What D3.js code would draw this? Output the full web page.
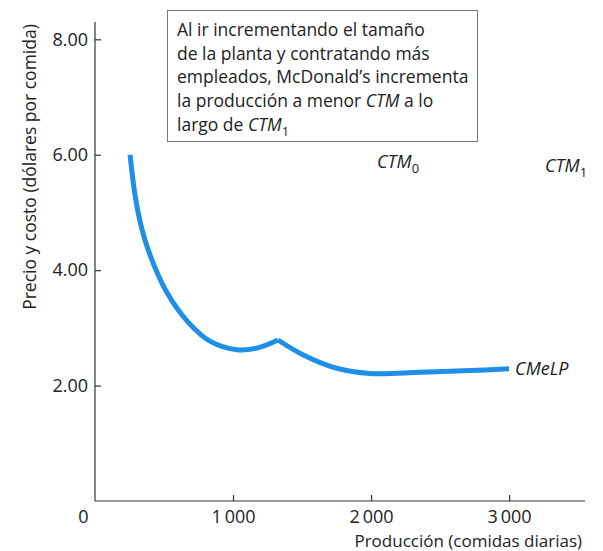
<!DOCTYPE html>
<html>
<head>
<meta charset="utf-8">
<script src="https://cdn.jsdelivr.net/npm/d3@7"></script>
<style>
  html, body { margin: 0; padding: 0; background: #fff; }
  svg { display: block; font-family: "Open Sans", "DejaVu Sans", sans-serif; }
  .axis path, .axis line { stroke: #333; stroke-width: 1.2; }
  .axis text { fill: #222; font-size: 18px; font-family: "Open Sans", sans-serif; }
</style>
</head>
<body>
<svg id="chart" width="603" height="551"></svg>
<script>
// Long-run average cost curve (CMeLP): meals per day vs dollars per meal
const segmentCTM0 = [
  [254, 6.00], [290, 5.30], [338, 4.73], [399, 4.26], [519, 3.62],
  [674, 3.10], [833, 2.77], [1029, 2.62], [1174, 2.65], [1326, 2.79]
];
const segmentCTM1 = [
  [1326, 2.79], [1509, 2.53], [1751, 2.30], [1992, 2.21], [2355, 2.23],
  [2717, 2.26], [3000, 2.29]
];
const xTicks = [0, 1000, 2000, 3000];
const yTicks = [2, 4, 6, 8];
const noteLines = [
  [{t: "Al ir incrementando el tamaño"}],
  [{t: "de la planta y contratando más"}],
  [{t: "empleados, McDonald’s incrementa"}],
  [{t: "la producción a menor "}, {t: "CTM", it: true}, {t: " a lo"}],
  [{t: "largo de "}, {t: "CTM", it: true}, {t: "1", sub: true}]
];

const svg = d3.select("#chart");
const x = d3.scaleLinear().domain([0, 3550]).range([95, 585]);
const y = d3.scaleLinear().domain([0, 8.3]).range([501, 22]);

// axes
const fmtX = d => d === 0 ? "0" : d3.format(",")(d).replace(",", "\u2009");
const gx = svg.append("g").attr("class", "axis")
  .attr("transform", `translate(0,${y(0)})`)
  .call(d3.axisBottom(x).tickValues(xTicks).tickSizeInner(-6).tickSizeOuter(0)
    .tickPadding(9).tickFormat(fmtX));
gx.select(".domain").attr("d", `M${x(0)},0H${x(3550)}`);
gx.selectAll(".tick").filter(d => d === 0).select("line").remove();
gx.selectAll(".tick").filter(d => d === 0).select("text").attr("x", -12);

const gy = svg.append("g").attr("class", "axis")
  .attr("transform", `translate(${x(0)},0)`)
  .call(d3.axisLeft(y).tickValues(yTicks).tickSizeInner(-6).tickSizeOuter(0)
    .tickPadding(7).tickFormat(d3.format(".2f")));
gy.select(".domain").attr("d", `M0,${y(8.3)}V${y(0)}`);
gy.selectAll(".tick text").attr("font-size", 19);

// axis titles
svg.append("text")
  .attr("transform", `translate(36,167) rotate(-90)`)
  .attr("text-anchor", "middle")
  .attr("fill", "#222").attr("font-size", 17.5)
  .text("Precio y costo (dólares por comida)");
svg.append("text")
  .attr("x", 582).attr("y", 547)
  .attr("text-anchor", "end")
  .attr("fill", "#222").attr("font-size", 17)
  .text("Producción (comidas diarias)");

// curve: two smooth pieces meeting at the plant-size switch point
const line = d3.line().x(d => x(d[0])).y(d => y(d[1])).curve(d3.curveCatmullRom.alpha(0.5));
svg.append("path")
  .attr("d", line(segmentCTM0) + line(segmentCTM1))
  .attr("fill", "none")
  .attr("stroke", "#1f8ee6")
  .attr("stroke-width", 5)
  .attr("stroke-linejoin", "miter")
  .attr("stroke-linecap", "butt");

// curve labels
function label(px, py, main, sub) {
  const t = svg.append("text").attr("x", px).attr("y", py)
    .attr("fill", "#222").attr("font-size", 18);
  t.append("tspan").attr("font-style", "italic").text(main);
  if (sub) t.append("tspan").attr("dy", 5).attr("font-size", 13).text(sub);
  return t;
}
label(377, 168, "CTM", "0");
label(545, 172, "CTM", "1");
const last = segmentCTM1[segmentCTM1.length - 1];
label(x(last[0]) + 6, y(last[1]) + 6, "CMeLP");

// note box
svg.append("rect")
  .attr("x", 167.5).attr("y", 10.5).attr("width", 310).attr("height", 131)
  .attr("fill", "#fff").attr("stroke", "#777").attr("stroke-width", 1);
const note = svg.append("g").attr("font-size", 17.5).attr("fill", "#222");
noteLines.forEach((parts, i) => {
  const t = note.append("text").attr("x", 177).attr("y", 36 + i * 23.7);
  parts.forEach(p => {
    const s = t.append("tspan").text(p.t);
    if (p.it) s.attr("font-style", "italic");
    if (p.sub) s.attr("dy", 5).attr("font-size", 13);
  });
});
</script>
</body>
</html>
